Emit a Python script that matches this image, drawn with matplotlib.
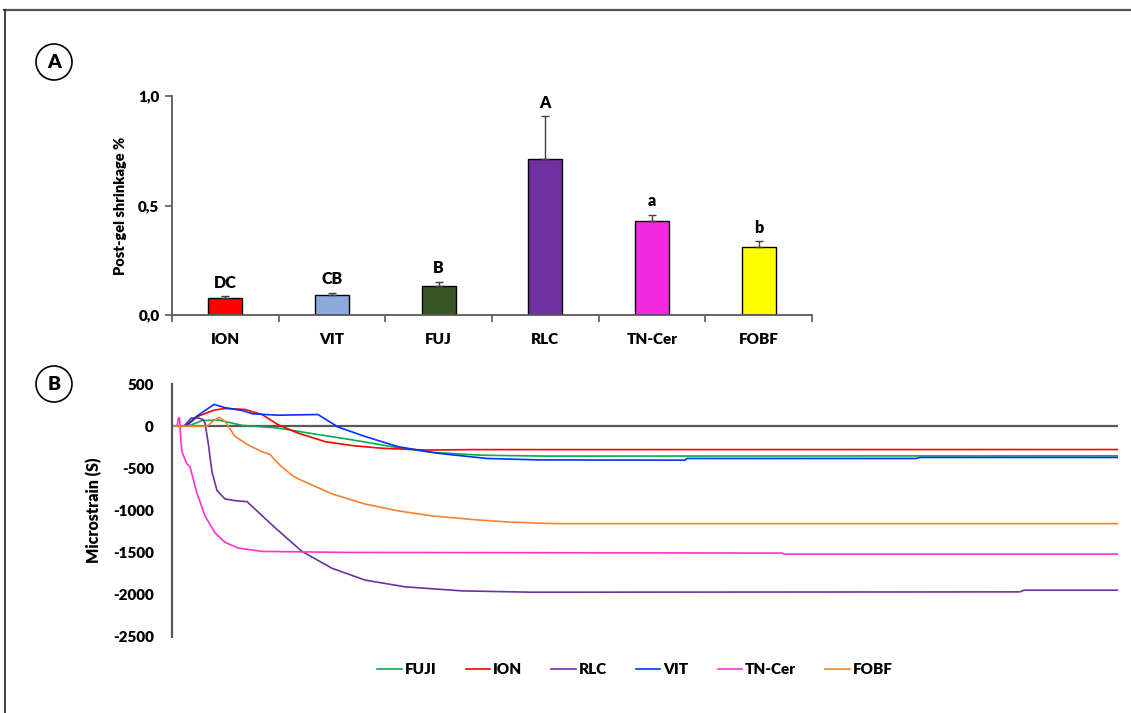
import matplotlib
matplotlib.use("Agg")
import matplotlib.pyplot as plt
from matplotlib.lines import Line2D
from matplotlib.patches import Ellipse
import numpy as np

plt.rcParams['font.family'] = ['Lato', 'DejaVu Sans']
WT = "heavy"
plt.rcParams['font.weight'] = WT

# ---------------- Panel A data ----------------
materials = ["ION", "VIT", "FUJ", "RLC", "TN-Cer", "FOBF"]
shrinkage = [0.078, 0.091, 0.132, 0.711, 0.429, 0.309]
shrink_err = [0.008, 0.011, 0.020, 0.196, 0.028, 0.027]
letters = ["DC", "CB", "B", "A", "a", "b"]
bar_colors = ["#FF0000", "#8EA9DB", "#375623", "#7030A0", "#F229DE", "#FFFF00"]
a_yticks = [0.0, 0.5, 1.0]
a_yticklabels = ["0,0", "0,5", "1,0"]

# ---------------- Panel B data ----------------
fuji_t = [0, 16, 30, 46, 70, 106, 143, 180, 220, 260, 310, 376, 946]
fuji_v = [0, 0, 66, 74, 10, -22, -94, -162, -243, -310, -345, -355, -352]

ion_t = [0, 14, 26, 42, 53, 73, 90, 106, 126, 153, 180, 210, 253, 300, 946]
ion_v = [0, 0, 118, 190, 210, 198, 138, 18, -82, -183, -230, -262, -283, -278, -277]

rlc_t = [0, 12, 19, 26, 31, 33, 36, 40, 45, 53, 63, 75, 83, 103, 130, 160, 193, 233, 290, 360, 848, 852, 946]
rlc_v = [0, 0, 95, 98, 80, 38, -183, -543, -763, -863, -883, -895, -983, -1204, -1485, -1685, -1825, -1905, -1953, -1969, -1965, -1945, -1945]

vit_t = [0, 13, 25, 42, 53, 70, 81, 106, 146, 166, 193, 226, 266, 315, 366, 513, 515, 744, 748, 946]
vit_v = [0, 0, 120, 258, 219, 186, 146, 130, 138, -10, -122, -243, -322, -383, -400, -403, -383, -383, -371, -371]

tncer_t = [0, 5, 6.5, 7.5, 9, 10, 14.7, 18, 24.7, 33, 43, 53, 66, 90, 173, 610, 612, 946]
tncer_v = [0, 0, 98, 98, -183, -303, -443, -483, -784, -1064, -1265, -1377, -1445, -1485, -1497, -1505, -1517, -1517]

fobf_t = [0, 35, 41, 47, 53, 63, 76, 90, 98, 100, 108, 120, 126, 160, 193, 226, 260, 306, 336, 383, 946]
fobf_v = [0, 0, 60, 106, 58, -122, -222, -303, -334, -363, -463, -583, -623, -803, -923, -1004, -1064, -1112, -1136, -1156, -1156]

series_names = ["FUJI", "ION", "RLC", "VIT", "TN-Cer", "FOBF"]
series_t = [fuji_t, ion_t, rlc_t, vit_t, tncer_t, fobf_t]
series_v = [fuji_v, ion_v, rlc_v, vit_v, tncer_v, fobf_v]
line_colors = ["#00B050", "#FF0000", "#7030A0", "#0033FF", "#FF33CC", "#F58231"]
b_yticks = [500, 0, -500, -1000, -1500, -2000, -2500]

W, H = 1131, 713
fig = plt.figure(figsize=(W / 100, H / 100), dpi=100)

def fx(px):
    return px / W

def fy(py):
    return 1 - py / H

axis_col = "#595959"

# ---------------- Panel A ----------------
axA = fig.add_axes([fx(172), fy(315), fx(812) - fx(172), fy(96) - fy(315)])
x = np.arange(len(materials))
axA.bar(x, shrinkage, width=0.32, color=bar_colors, edgecolor="black", linewidth=1.0, zorder=2)
axA.errorbar(x, shrinkage, yerr=[[0] * len(x), shrink_err], fmt="none",
             ecolor="#404040", elinewidth=1.0, capsize=3, capthick=1.0, zorder=3)
for xi, v, e, lab in zip(x, shrinkage, shrink_err, letters):
    axA.annotate(lab, (xi, v + e), xytext=(0, 4), textcoords="offset points",
                 ha="center", va="bottom", fontsize=11.5, fontweight=WT)
axA.set_xlim(-0.5, len(materials) - 0.5)
axA.set_ylim(0, 1.0)
axA.set_yticks(a_yticks)
axA.set_yticklabels(a_yticklabels, fontsize=11, fontweight=WT)
axA.set_xticks(x)
axA.set_xticklabels(materials, fontsize=11, fontweight=WT)
axA.set_xticks(np.arange(len(materials) + 1) - 0.5, minor=True)
axA.tick_params(axis="x", which="major", length=0, pad=13)
axA.tick_params(axis="x", which="minor", length=5, width=1.2, color=axis_col, direction="out")
axA.tick_params(axis="y", length=5, width=1.2, color=axis_col, pad=4)
for s in ["top", "right"]:
    axA.spines[s].set_visible(False)
for s in ["left", "bottom"]:
    axA.spines[s].set_color(axis_col)
    axA.spines[s].set_linewidth(1.3)
axA.set_ylabel("Post-gel shrinkage %", fontsize=10.5, fontweight=WT, labelpad=8)

# ---------------- Panel B ----------------
axB = fig.add_axes([fx(172), fy(637), fx(1118) - fx(172), fy(384) - fy(637)])
axB.axhline(0, color=axis_col, linewidth=1.6, zorder=1)
handles = []
for name, t, v, c in zip(series_names, series_t, series_v, line_colors):
    h, = axB.plot(t, v, color=c, linewidth=1.2, label=name, zorder=2)
    handles.append(h)
axB.set_xlim(0, 946)
axB.set_ylim(-2500, 500)
axB.set_yticks(b_yticks)
axB.set_yticklabels([str(v) for v in b_yticks], fontsize=11, fontweight=WT)
axB.tick_params(axis="y", length=0, pad=13)
axB.set_xticks([])
for s in ["top", "right", "bottom"]:
    axB.spines[s].set_visible(False)
axB.spines["left"].set_color(axis_col)
axB.spines["left"].set_linewidth(1.6)
axB.set_ylabel("Microstrain (S)", fontsize=11.5, fontweight=WT, labelpad=8)

fig.legend(handles=handles, labels=series_names, loc="center",
           bbox_to_anchor=(fx(635), fy(670)), ncol=6, frameon=False,
           handlelength=1.6, handletextpad=0.2, columnspacing=1.9,
           prop={"weight": WT, "size": 11})

# ---------------- Panel letters ----------------
for lab, cy in [("A", 62), ("B", 384)]:
    fig.add_artist(Ellipse((fx(54), fy(cy)), 36 / W, 36 / H, transform=fig.transFigure,
                           facecolor="white", edgecolor="black", linewidth=1.2))
    fig.text(fx(54), fy(cy), lab, ha="center", va="center", fontsize=14, fontweight=WT)

# ---------------- Frame ----------------
fig.add_artist(Line2D([fx(4), 1], [fy(9.5), fy(9.5)], transform=fig.transFigure,
                      color="#555555", linewidth=1.6))
fig.add_artist(Line2D([fx(4.5), fx(4.5)], [fy(9.5), 0], transform=fig.transFigure,
                      color="#222222", linewidth=1.2))

fig.savefig("out.png", dpi=100)
